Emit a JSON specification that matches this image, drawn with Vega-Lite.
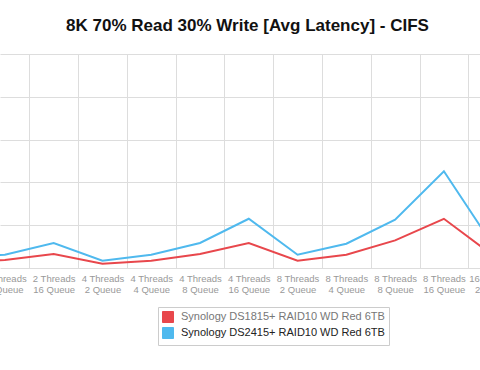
{
  "$schema": "https://vega.github.io/schema/vega-lite/v6.json",
  "width": 500,
  "height": 214,
  "autosize": {"type": "none"},
  "padding": {"top": 54, "left": 0, "right": -20, "bottom": 102},
  "background": "white",
  "title": {
    "text": "8K 70% Read 30% Write [Avg Latency] - CIFS",
    "font": "Liberation Sans",
    "fontSize": 17,
    "fontWeight": "bold",
    "color": "#111111",
    "anchor": "middle",
    "dx": -2.5,
    "offset": 6,
    "baseline": "alphabetic"
  },
  "data": {
    "values": [
      {"idx": 5, "config": "2 Threads 4 Queue", "series": "Synology DS1815+ RAID10 WD Red 6TB", "latency": 1.5},
      {"idx": 6, "config": "2 Threads 8 Queue", "series": "Synology DS1815+ RAID10 WD Red 6TB", "latency": 1.85},
      {"idx": 7, "config": "2 Threads 16 Queue", "series": "Synology DS1815+ RAID10 WD Red 6TB", "latency": 3.27},
      {"idx": 8, "config": "4 Threads 2 Queue", "series": "Synology DS1815+ RAID10 WD Red 6TB", "latency": 1.0},
      {"idx": 9, "config": "4 Threads 4 Queue", "series": "Synology DS1815+ RAID10 WD Red 6TB", "latency": 1.7},
      {"idx": 10, "config": "4 Threads 8 Queue", "series": "Synology DS1815+ RAID10 WD Red 6TB", "latency": 3.27},
      {"idx": 11, "config": "4 Threads 16 Queue", "series": "Synology DS1815+ RAID10 WD Red 6TB", "latency": 5.84},
      {"idx": 12, "config": "8 Threads 2 Queue", "series": "Synology DS1815+ RAID10 WD Red 6TB", "latency": 1.7},
      {"idx": 13, "config": "8 Threads 4 Queue", "series": "Synology DS1815+ RAID10 WD Red 6TB", "latency": 3.1},
      {"idx": 14, "config": "8 Threads 8 Queue", "series": "Synology DS1815+ RAID10 WD Red 6TB", "latency": 6.45},
      {"idx": 15, "config": "8 Threads 16 Queue", "series": "Synology DS1815+ RAID10 WD Red 6TB", "latency": 11.5},
      {"idx": 16, "config": "16 Threads 2 Queue", "series": "Synology DS1815+ RAID10 WD Red 6TB", "latency": 3.0},
      {"idx": 5, "config": "2 Threads 4 Queue", "series": "Synology DS2415+ RAID10 WD Red 6TB", "latency": 2.4},
      {"idx": 6, "config": "2 Threads 8 Queue", "series": "Synology DS2415+ RAID10 WD Red 6TB", "latency": 3.1},
      {"idx": 7, "config": "2 Threads 16 Queue", "series": "Synology DS2415+ RAID10 WD Red 6TB", "latency": 5.84},
      {"idx": 8, "config": "4 Threads 2 Queue", "series": "Synology DS2415+ RAID10 WD Red 6TB", "latency": 1.7},
      {"idx": 9, "config": "4 Threads 4 Queue", "series": "Synology DS2415+ RAID10 WD Red 6TB", "latency": 3.1},
      {"idx": 10, "config": "4 Threads 8 Queue", "series": "Synology DS2415+ RAID10 WD Red 6TB", "latency": 5.84},
      {"idx": 11, "config": "4 Threads 16 Queue", "series": "Synology DS2415+ RAID10 WD Red 6TB", "latency": 11.5},
      {"idx": 12, "config": "8 Threads 2 Queue", "series": "Synology DS2415+ RAID10 WD Red 6TB", "latency": 3.1},
      {"idx": 13, "config": "8 Threads 4 Queue", "series": "Synology DS2415+ RAID10 WD Red 6TB", "latency": 5.68},
      {"idx": 14, "config": "8 Threads 8 Queue", "series": "Synology DS2415+ RAID10 WD Red 6TB", "latency": 11.3},
      {"idx": 15, "config": "8 Threads 16 Queue", "series": "Synology DS2415+ RAID10 WD Red 6TB", "latency": 22.6},
      {"idx": 16, "config": "16 Threads 2 Queue", "series": "Synology DS2415+ RAID10 WD Red 6TB", "latency": 5.4}
    ]
  },
  "layer": [
    {
      "mark": {"type": "line", "opacity": 0, "clip": true},
      "encoding": {
        "x": {
          "field": "idx",
          "type": "quantitative",
          "scale": {"domain": [5.9, 16.15], "nice": false, "zero": false},
          "axis": {
            "orient": "top",
            "values": [6.5, 7.5, 8.5, 9.5, 10.5, 11.5, 12.5, 13.5, 14.5, 15.5],
            "grid": true,
            "labels": false,
            "ticks": false,
            "domain": false,
            "title": null
          }
        },
        "y": {
          "field": "latency",
          "type": "quantitative",
          "scale": {"domain": [0, 50], "nice": false, "zero": true},
          "axis": {
            "values": [0, 10, 20, 30, 40, 50],
            "grid": true,
            "labels": false,
            "ticks": false,
            "domain": false,
            "title": null
          }
        },
        "detail": {"field": "series"}
      }
    },
    {
      "mark": {"type": "line", "strokeWidth": 2, "clip": true},
      "encoding": {
        "x": {
          "field": "idx",
          "type": "quantitative",
          "axis": {
            "orient": "bottom",
            "values": [6, 7, 8, 9, 10, 11, 12, 13, 14, 15, 16],
            "grid": false,
            "ticks": false,
            "domain": false,
            "title": null,
            "labelFlush": false,
            "labelOverlap": false,
            "labelBound": false,
            "labelExpr": "[pow(2, floor(datum.value / 4)) + ' Threads', pow(2, datum.value % 4 + 1) + ' Queue']",
            "labelFont": "Liberation Sans",
            "labelFontSize": 9.5,
            "labelLineHeight": 11,
            "labelColor": "#999999",
            "labelPadding": 5,
            "labelBaseline": "top"
          }
        },
        "y": {"field": "latency", "type": "quantitative"},
        "color": {
          "field": "series",
          "type": "nominal",
          "scale": {"range": ["#E8474C", "#4FB9EE"]},
          "legend": {
            "orient": "none",
            "legendX": 158,
            "legendY": 253,
            "title": null,
            "symbolType": "square",
            "symbolSize": 121,
            "symbolStrokeWidth": 1,
            "labelFont": "Liberation Sans",
            "labelFontSize": 11,
            "labelLimit": 300,
            "labelOffset": 7,
            "rowPadding": 0,
            "padding": 4,
            "strokeColor": "#cccccc",
            "fillColor": "white",
            "encode": {
              "symbols": {
                "update": {
                  "fill": {"scale": "color", "field": "value"},
                  "stroke": {"value": "#bbbbbb"},
                  "fillOpacity": {"value": 1}
                }
              },
              "labels": {
                "update": {
                  "fill": {"signal": "datum.value === 'Synology DS1815+ RAID10 WD Red 6TB' ? '#777777' : '#222222'"}
                }
              }
            }
          }
        }
      }
    }
  ],
  "config": {
    "view": {"stroke": null},
    "axis": {"gridColor": "#dddddd", "gridWidth": 1, "gridOpacity": 1}
  }
}
